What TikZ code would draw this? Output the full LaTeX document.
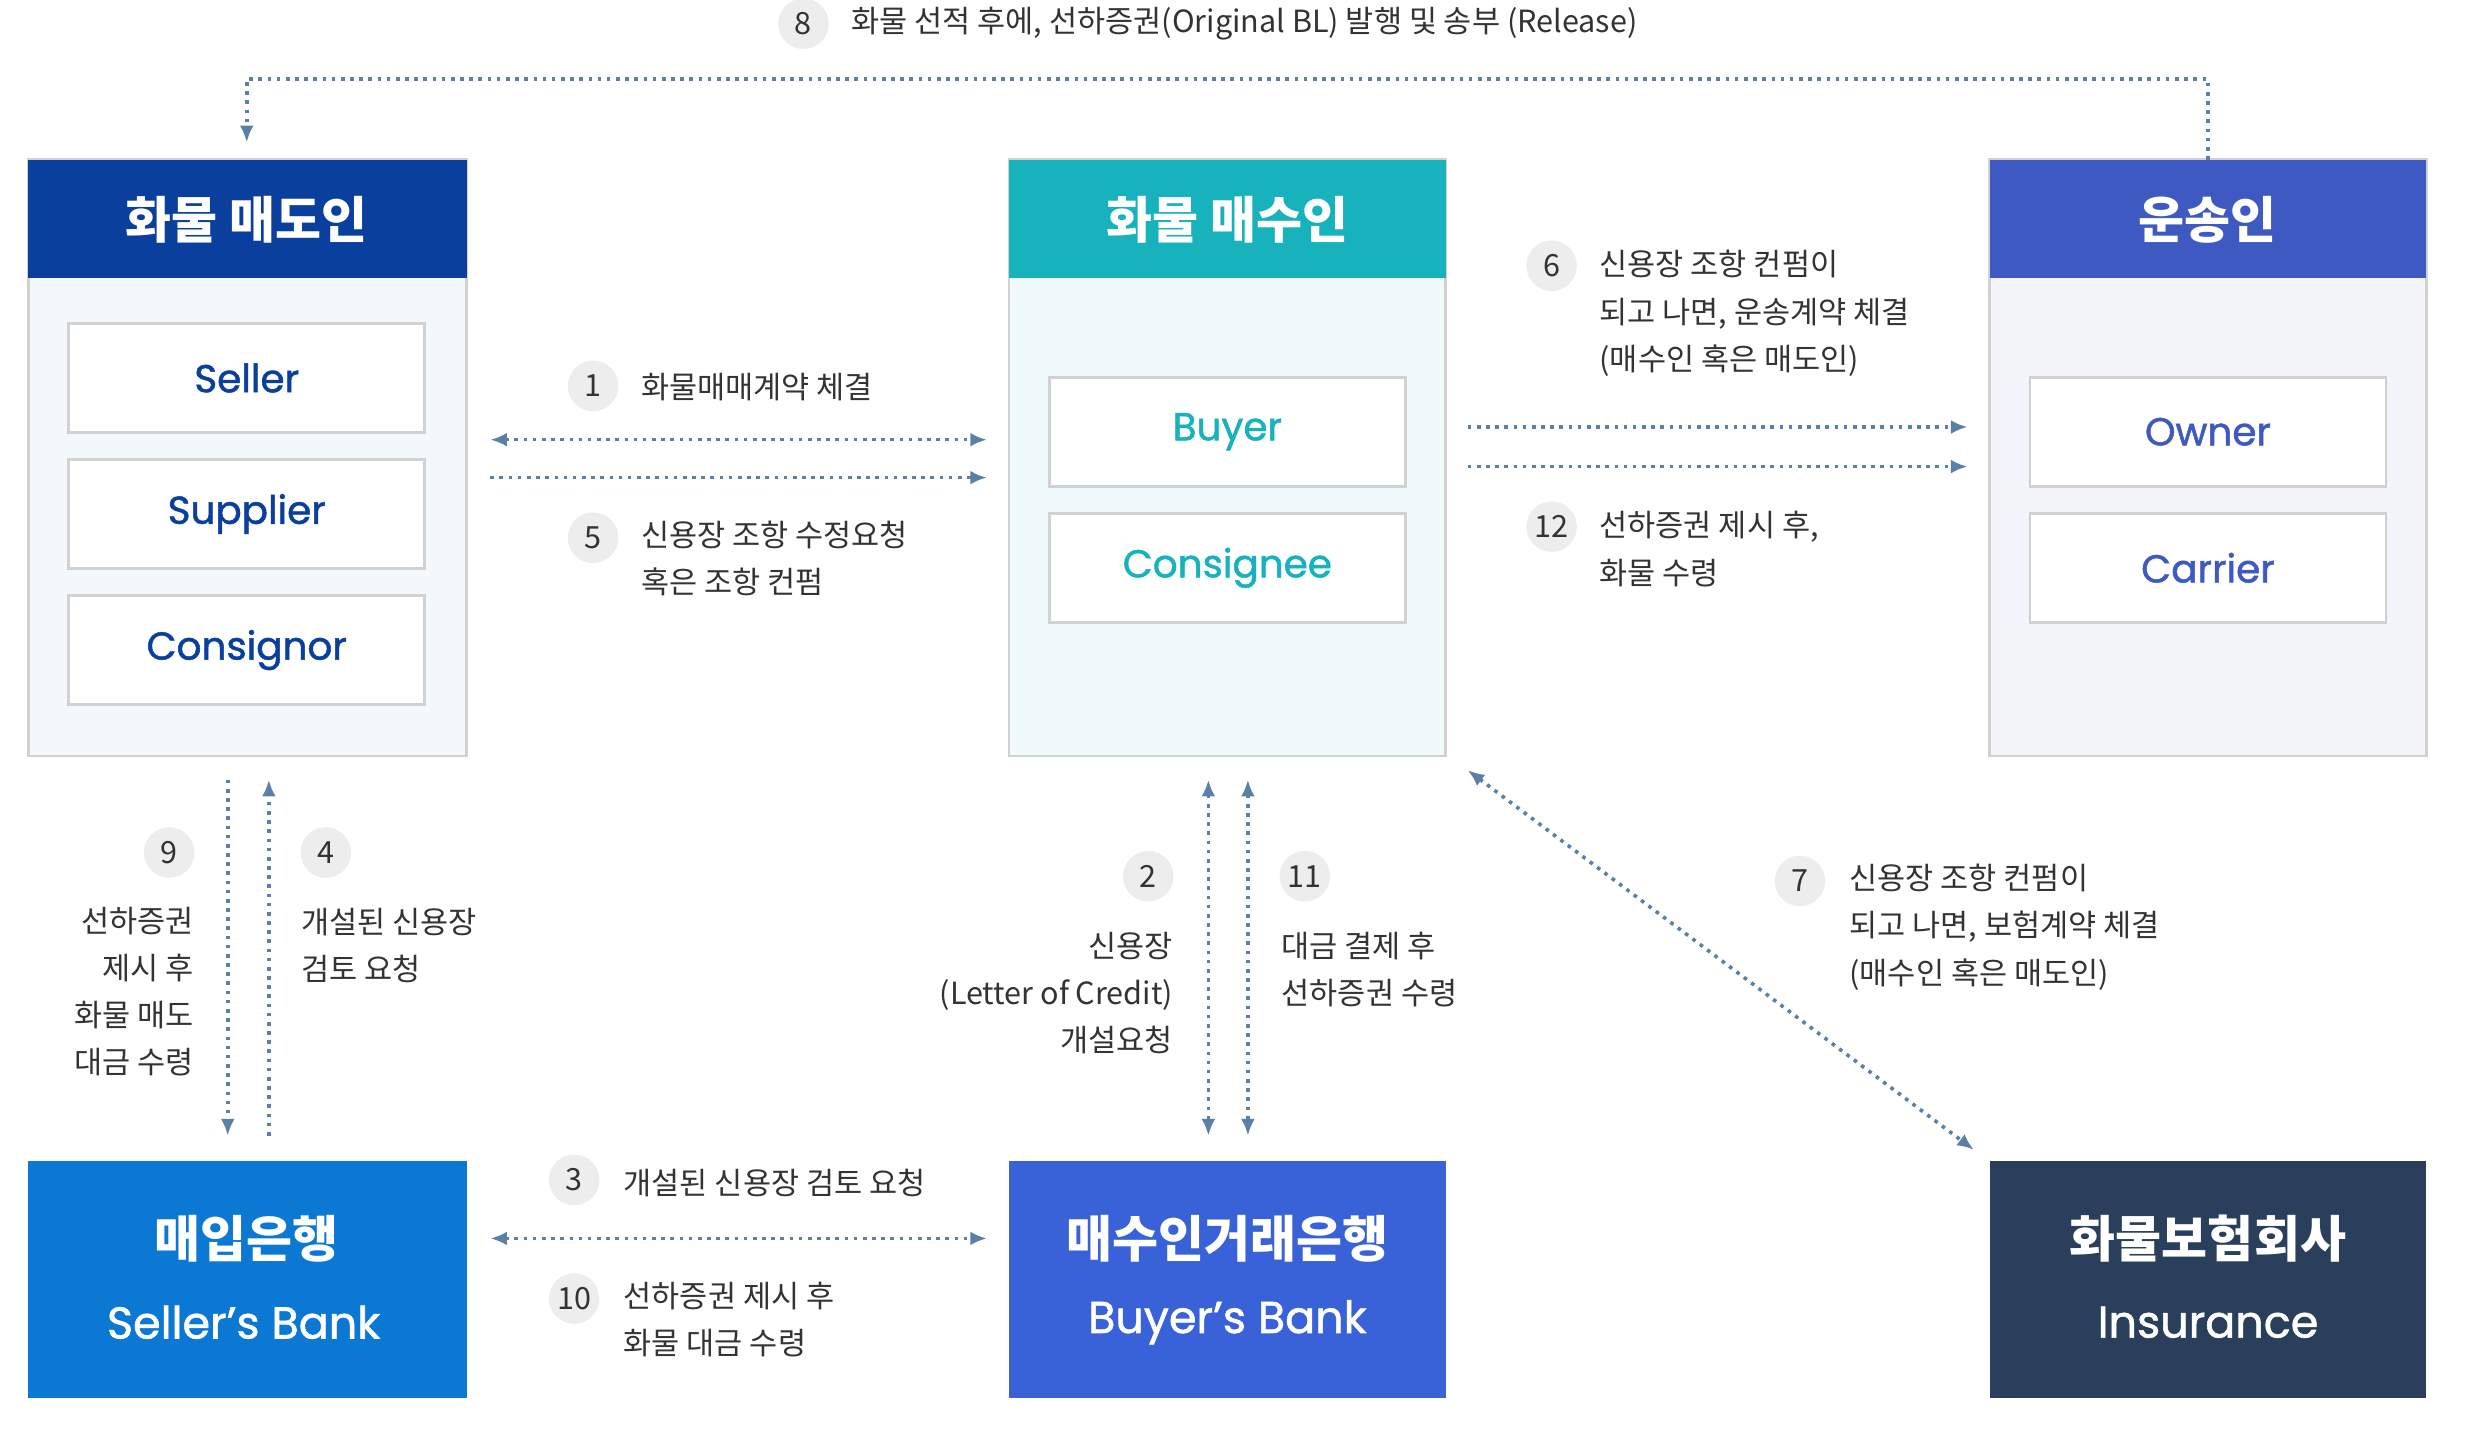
\documentclass[tikz,border=0pt]{standalone}
\usepackage{fontspec}
\setmainfont{Noto Sans CJK KR}
\newfontfamily\pop{Poppins}[FakeBold=1.3]
\usetikzlibrary{arrows.meta}
\definecolor{dblue}{HTML}{0B3F9E}
\definecolor{teal}{HTML}{17B2BC}
\definecolor{indig}{HTML}{3F59C2}
\definecolor{bankA}{HTML}{0B78D4}
\definecolor{bankB}{HTML}{3A62D8}
\definecolor{insu}{HTML}{2A3F5C}
\definecolor{arr}{HTML}{5B7FA6}
\definecolor{txt}{HTML}{333333}
\definecolor{pA}{HTML}{F3F8FC}
\definecolor{pB}{HTML}{F1FAFB}
\definecolor{pC}{HTML}{F3F4FA}
\tikzset{
 panel/.style={draw=black!18,line width=1pt},
 inner/.style={draw=black!18,fill=white,line width=1pt,minimum width=4.5cm,minimum height=1.38cm,font=\pop\fontsize{14}{16}\selectfont},
 head/.style={text=white,font=\bfseries\fontsize{18}{20}\selectfont},
 con/.style={arr,dotted,line width=1.3pt,-{Latex[length=6pt,width=5pt]}},
 con2/.style={con,{Latex[length=6pt,width=5pt]}-{Latex[length=6pt,width=5pt]}},
 num/.style={circle,fill=black!7,minimum size=0.64cm,inner sep=0pt,text=txt,font=\fontsize{11}{12}\selectfont},
 lab/.style={text=txt,font=\fontsize{11}{17}\selectfont,inner sep=0pt},
}
\begin{document}
\begin{tikzpicture}[x=0.02cm,y=-0.02cm]
\useasboundingbox (0,0) rectangle (1568,918);
% panels
\fill[pA] (18,101) rectangle (295,478);
\draw[panel] (18,101) rectangle (295,478);
\fill[dblue] (18,101) rectangle (295,176);
\node[head] (sT) at (156,139) {화물 매도인};
\node[inner,text=dblue] (s1) at (156,239) {Seller};
\node[inner,text=dblue] (s2) at (156,325) {Supplier};
\node[inner,text=dblue] (s3) at (156,411) {Consignor};

\fill[pB] (638,101) rectangle (914,478);
\draw[panel] (638,101) rectangle (914,478);
\fill[teal] (638,101) rectangle (914,176);
\node[head] (bT) at (776,139) {화물 매수인};
\node[inner,text=teal] (b1) at (776,273) {Buyer};
\node[inner,text=teal] (b2) at (776,359) {Consignee};

\fill[pC] (1258,101) rectangle (1534,478);
\draw[panel] (1258,101) rectangle (1534,478);
\fill[indig] (1258,101) rectangle (1534,176);
\node[head] (cT) at (1396,139) {운송인};
\node[inner,text=indig] (c1) at (1396,273) {Owner};
\node[inner,text=indig] (c2) at (1396,359) {Carrier};

% banks
\fill[bankA] (18,734) rectangle (295,884);
\node[head] (kA) at (156,783) {매입은행};
\node[text=white,font=\pop\fontsize{16}{18}\selectfont] (kA2) at (154,836) {Seller’s Bank};
\fill[bankB] (638,734) rectangle (914,884);
\node[head] (kB) at (776,783) {매수인거래은행};
\node[text=white,font=\pop\fontsize{16}{18}\selectfont] (kB2) at (776,836) {Buyer’s Bank};
\fill[insu] (1258,734) rectangle (1534,884);
\node[head] (kI) at (1396,783) {화물보험회사};
\node[text=white,font=\pop\fontsize{16}{18}\selectfont] (kI2) at (1396,836) {Insurance};

% coordinates
\coordinate (p8a) at (1396,101); \coordinate (p8b) at (156,90);
\coordinate (l1) at (310,278); \coordinate (r1) at (624,278);
\coordinate (l5) at (310,302); \coordinate (r5) at (624,302);
\coordinate (l6) at (928,270); \coordinate (r6) at (1244,270);
\coordinate (l12) at (928,295); \coordinate (r12) at (1244,295);
\coordinate (t9) at (144,493); \coordinate (b9) at (144,718);
\coordinate (t4) at (170,493); \coordinate (b4) at (170,718);
\coordinate (t2) at (764,493); \coordinate (b2) at (764,718);
\coordinate (t11) at (789,493); \coordinate (b11) at (789,718);
\coordinate (a7) at (928,487); \coordinate (e7) at (1248,727);
\coordinate (l3) at (310,783); \coordinate (r3) at (624,783);

\draw[con] (p8a) -- (1396,50) -- (156,50) -- (p8b);
\draw[con2] (l1) -- (r1);
\draw[con] (l5) -- (r5);
\draw[con] (l6) -- (r6);
\draw[con] (l12) -- (r12);
\draw[con] (t9) -- (b9);
\draw[con] (b4) -- (t4);
\draw[con2] (t2) -- (b2);
\draw[con2] (t11) -- (b11);
\draw[con2] (a7) -- (e7);
\draw[con2] (l3) -- (r3);

% labels
\node[num] (n8) at (508,15) {8};
\node[lab,anchor=west] (t8) at (538,15) {화물 선적 후에, 선하증권(Original BL) 발행 및 송부 (Release)};
\node[num] (n1) at (375,244) {1};
\node[lab,anchor=west] (t1) at (405,245) {화물매매계약 체결};
\node[num] (n5) at (375,340) {5};
\node[lab,anchor=north west,align=left] (t5) at (405,329) {신용장 조항 수정요청\\혹은 조항 컨펌};
\node[num] (n6) at (981,168) {6};
\node[lab,anchor=north west,align=left] (t6) at (1011,158) {신용장 조항 컨펌이\\되고 나면, 운송계약 체결\\(매수인 혹은 매도인)};
\node[num] (n12) at (981,333) {12};
\node[lab,anchor=north west,align=left] (t12) at (1011,323) {선하증권 제시 후,\\화물 수령};
\node[num] (n9) at (107,539) {9};
\node[lab,anchor=north east,align=right] (t9l) at (123,573) {선하증권\\제시 후\\화물 매도\\대금 수령};
\node[num] (n4) at (206,539) {4};
\node[lab,anchor=north west,align=left] (t4l) at (190,574) {개설된 신용장\\검토 요청};
\node[num] (n2) at (726,554) {2};
\node[lab,anchor=north east,align=right] (t2l) at (742,589) {신용장\\(Letter of Credit)\\개설요청};
\node[num] (n11) at (825,554) {11};
\node[lab,anchor=north west,align=left] (t11l) at (810,589) {대금 결제 후\\선하증권 수령};
\node[num] (n7) at (1138,557) {7};
\node[lab,anchor=north west,align=left] (t7) at (1169,546) {신용장 조항 컨펌이\\되고 나면, 보험계약 체결\\(매수인 혹은 매도인)};
\node[num] (n3) at (363,746) {3};
\node[lab,anchor=west] (t3) at (394,748) {개설된 신용장 검토 요청};
\node[num] (n10) at (363,821) {10};
\node[lab,anchor=north west,align=left] (t10) at (394,810) {선하증권 제시 후\\화물 대금 수령};
\end{tikzpicture}
\end{document}
